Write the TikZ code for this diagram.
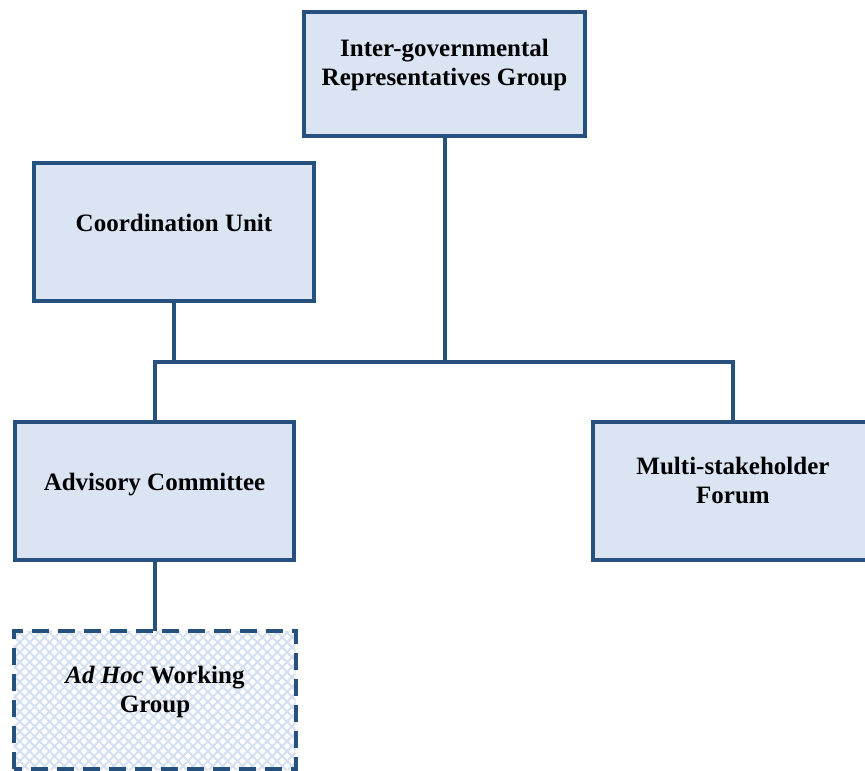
\documentclass[tikz,border=0pt]{standalone}
\usepackage{fontspec}
\setmainfont{Liberation Serif}
\usetikzlibrary{patterns.meta}
\definecolor{edge}{RGB}{38,80,125}
\definecolor{boxfill}{RGB}{219,228,243}
\definecolor{pat}{RGB}{212,224,241}
\tikzset{
  orgbox/.style={draw=edge, fill=boxfill, line width=4pt, rectangle, outer sep=0pt, inner sep=0pt},
  dashbox/.style={draw=edge, line width=4pt, dash pattern=on 17pt off 9pt, rectangle, outer sep=0pt, inner sep=0pt},
  txt/.style={font=\fontsize{25}{29}\selectfont\bfseries, align=center, anchor=base, inner sep=0pt},
  link/.style={draw=edge, line width=4pt, line join=miter}
}
\begin{document}
\begin{tikzpicture}[x=1pt,y=-1pt]
\useasboundingbox (0,0) rectangle (865,771);
\clip (0,0) rectangle (865,771);
\fill[white] (0,0) rectangle (865,771);
% boxes
\node[orgbox, minimum width=281pt, minimum height=124pt] (irg) at (444.5,74) {};
\node[orgbox, minimum width=280pt, minimum height=138pt] (cu) at (174,232) {};
\node[orgbox, minimum width=279pt, minimum height=138pt] (adv) at (154.5,491) {};
\node[orgbox, minimum width=280pt, minimum height=138pt] (msf) at (733,491) {};
\node[minimum width=282pt, minimum height=138pt, outer sep=0pt, inner sep=0pt] (adhoc) at (154.5,700) {};
\fill[white] (adhoc.south west) rectangle (adhoc.north east);
\fill[pattern={Lines[angle=45,distance=7pt,line width=2pt]}, pattern color=pat] (adhoc.south west) rectangle (adhoc.north east);
\fill[pattern={Lines[angle=-45,distance=7pt,line width=2pt]}, pattern color=pat] (adhoc.south west) rectangle (adhoc.north east);
\draw[dashbox] (adhoc.south west) rectangle (adhoc.north east);
% texts
\node[txt] (irgt) at (444.5,85) {Inter-governmental\\Representatives Group};
\node[txt] (cut) at (174,231) {Coordination Unit};
\node[txt] (advt) at (154.5,490) {Advisory Committee};
\node[txt] (msft) at (733,503) {Multi-stakeholder\\Forum};
\node[txt] (adhoct) at (155,712) {\textit{Ad Hoc} Working\\Group};
% connectors
\coordinate (barL) at (154.5,362);
\coordinate (barR) at (733,362);
\path[link] (adv.north) -- (barL) -- (barR) -- (msf.north);
\path[link] (irg.south) -- (irg.south |- barL);
\path[link] (cu.south) -- (cu.south |- barL);
\path[link] (adv.south) -- (adhoc.north);
\end{tikzpicture}
\end{document}
